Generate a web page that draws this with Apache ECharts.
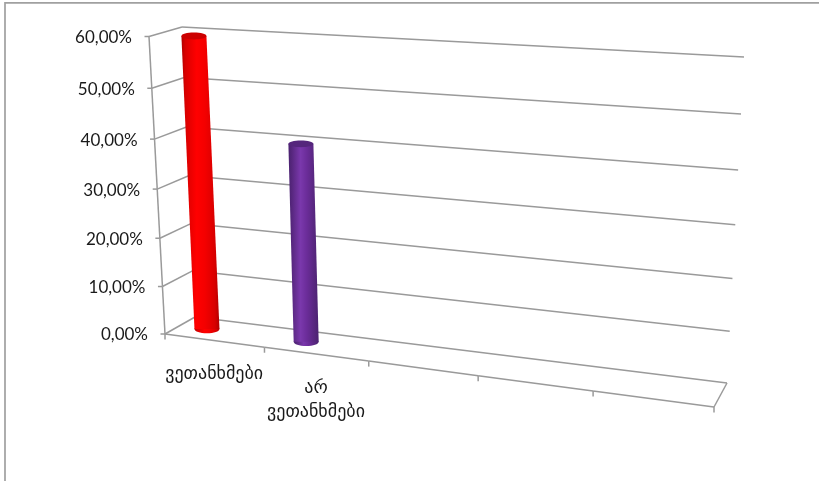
<!DOCTYPE html>
<html><head><meta charset="utf-8">
<style>html,body{margin:0;padding:0;background:#fff}#c{width:819px;height:481px}</style>
<script src="https://cdn.jsdelivr.net/npm/echarts@6/dist/echarts.min.js"></script>
</head><body><div id="c"></div>
<script>
var categories = ['ვეთანხმები', 'არ\nვეთანხმები', '', '', ''];
var seriesNames = ['ვეთანხმები', 'არ ვეთანხმები'];
var seriesValues = [59.5, 40];
var tickValues = [0, 10, 20, 30, 40, 50, 60];
var tickLabels = ['0,00%', '10,00%', '20,00%', '30,00%', '40,00%', '50,00%', '60,00%'];
var barColors = [
  {edge:'#b00000', mid:'#f40000', light:'#ff0000', shade:'#d80000', top:'#cc0000'},
  {edge:'#4a2270', mid:'#6a2c98', light:'#7a38ac', shade:'#55267c', top:'#55267c'}
];

/* projection of the chart box: unit square -> picture quad */
function quad(p00, p10, p11, p01) {
  var dx1 = p10[0]-p11[0], dx2 = p01[0]-p11[0], sx = p00[0]-p10[0]+p11[0]-p01[0];
  var dy1 = p10[1]-p11[1], dy2 = p01[1]-p11[1], sy = p00[1]-p10[1]+p11[1]-p01[1];
  var den = dx1*dy2-dx2*dy1;
  var g = (sx*dy2-dx2*sy)/den, h = (dx1*sy-sx*dy1)/den;
  var a = p10[0]-p00[0]+g*p10[0], b = p01[0]-p00[0]+h*p01[0], c = p00[0];
  var d = p10[1]-p00[1]+g*p10[1], e = p01[1]-p00[1]+h*p01[1], f = p00[1];
  return function (s, t) {
    var q = g*s+h*t+1;
    return [(a*s+b*t+c)/q, (d*s+e*t+f)/q];
  };
}
var frontPlane = quad([165,334],[714,407],[729,73],[149,36.5]);
var backPlane  = quad([195,317],[727,383],[744,57],[182,27]);
function projector(params, api) {
  var cs = params.coordSys;
  return function (u, v, w) {
    var p = api.coord([u, v]);
    var s = (p[0]-cs.x)/cs.width, t = 1-(p[1]-cs.y)/cs.height;
    var f = frontPlane(s, t), b = backPlane(s, t);
    return [f[0]+(b[0]-f[0])*w, f[1]+(b[1]-f[1])*w];
  };
}
var LINE = {stroke:'#9a9a9a', lineWidth:1.5, fill:null};
function seg(a, b, style) {
  return {type:'line', shape:{x1:a[0],y1:a[1],x2:b[0],y2:b[1]}, style:style||LINE};
}
var uMax = categories.length;

function renderWall(params, api) {
  var P = projector(params, api), v = api.value(0), label = tickLabels[params.dataIndex];
  var f = P(0,v,0), b = P(0,v,1), e = P(uMax,v,1);
  var kids = [seg(f,b), seg(b,e), seg([f[0]-4.5,f[1]],f),
    {type:'text', x:f[0]-17, y:f[1]+1, style:{text:label, x:0, y:0, align:'right', verticalAlign:'middle',
      font:'17px Lato, Carlito, sans-serif', fill:'#1a1a1a'}}];
  if (params.dataIndex < tickValues.length-1) kids.push(seg(f, P(0,tickValues[params.dataIndex+1],0)));
  return {type:'group', children:kids};
}
function renderFloor(params, api) {
  var P = projector(params, api), i = api.value(0);
  var a = P(i,0,0), kids = [seg([a[0],a[1]],[a[0],a[1]+5.5])];
  if (i < uMax) {
    kids.push(seg(a, P(i+1,0,0)));
    var m = P(i+0.5,0,0);
    if (categories[i]) kids.push({type:'text', x:m[0], y:m[1]+22, style:{text:categories[i], x:0, y:0,
      align:'center', verticalAlign:'top', lineHeight:24, font:'18px "DejaVu Sans", sans-serif', fill:'#1a1a1a'}});
  } else {
    kids.push(seg(a, P(i,0,1)));
  }
  return {type:'group', children:kids};
}
function renderBar(params, api) {
  var P = projector(params, api), i = api.value(0), v = api.value(1), col = barColors[i];
  var u = i+0.28, w = 0.5, rx = 12.5, ry = 4.3;
  var bt = P(u,0,w), tp = P(u,v,w);
  var grad = {type:'linear', x:0, y:0, x2:1, y2:0, colorStops:[
    {offset:0,color:col.edge},{offset:0.1,color:col.shade},{offset:0.4,color:col.light},
    {offset:0.62,color:col.mid},{offset:0.88,color:col.shade},{offset:1,color:col.edge}]};
  return {type:'group', children:[
    {type:'ellipse', shape:{cx:bt[0], cy:bt[1], rx:rx, ry:ry}, style:{fill:grad}},
    {type:'polygon', shape:{points:[[tp[0]-rx,tp[1]],[bt[0]-rx,bt[1]],[bt[0]+rx,bt[1]],[tp[0]+rx,tp[1]]]}, style:{fill:grad}},
    {type:'ellipse', shape:{cx:tp[0], cy:tp[1], rx:rx, ry:ry*0.8}, style:{fill:col.top}}
  ]};
}
var chart = echarts.init(document.getElementById('c'), null, {renderer:'canvas'});
chart.setOption({
  animation:false, backgroundColor:'#fff',
  grid:{left:100, right:100, top:40, bottom:60, containLabel:false},
  xAxis:{type:'value', min:0, max:uMax, show:false},
  yAxis:{type:'value', min:0, max:60, interval:10, show:false},
  graphic:[
    {type:'polyline', shape:{points:[[5,481],[5,2.8],[819,2.8]]}, style:{stroke:'#a0a0a0', lineWidth:1.7, fill:null}, silent:true}
  ],
  series:[
    {type:'custom', name:'wall', coordinateSystem:'cartesian2d', clip:false, z:1, renderItem:renderWall,
      data:tickValues.map(function(v){return [v];}), encode:{y:0}},
    {type:'custom', name:'floor', coordinateSystem:'cartesian2d', clip:false, z:1, renderItem:renderFloor,
      data:categories.concat(['']).map(function(c,i){return [i];}), encode:{x:0}},
    {type:'custom', name:'bars', coordinateSystem:'cartesian2d', clip:false, z:3, renderItem:renderBar,
      data:seriesValues.map(function(v,i){return [i,v];}), encode:{x:0,y:1}}
  ]
});
</script></body></html>
